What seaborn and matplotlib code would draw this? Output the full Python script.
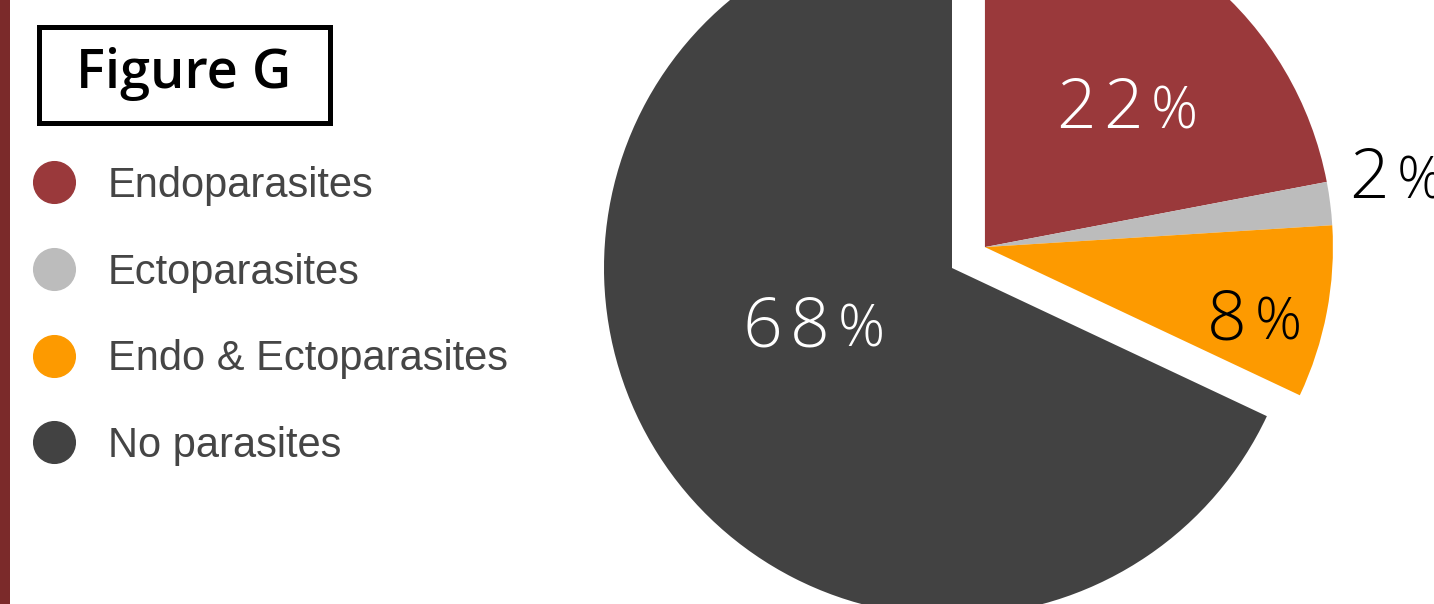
import numpy as np
import matplotlib
matplotlib.use("Agg")
import matplotlib.pyplot as plt
import seaborn as sns
from matplotlib.lines import Line2D
from matplotlib.patches import Rectangle
from matplotlib import font_manager
from matplotlib.font_manager import FontProperties

# ---- data ----
categories = ["Endoparasites", "Ectoparasites", "Endo & Ectoparasites", "No parasites"]
values = [22, 2, 8, 68]
pct_labels = ["22", "2", "8", "68"]
title_text = "Figure G"

# ---- style ----
colors = ["#9a393b", "#bcbcbc", "#fd9a00", "#424242"]
label_colors = ["white", "black", "black", "white"]
label_dist = [0.573, 1.20, 0.80, 0.43]
label_dang = [-5.8, 2.4, -4, -10]
exploded = [True, True, True, False]

sns.set_theme(style="white")
W, H = 1434, 604
fig = plt.figure(figsize=(W / 100, H / 100), dpi=100)
fig.patch.set_facecolor("white")
ax = fig.add_axes([0, 0, 1, 1])


def find_font(families, wmin, wmax, condensed):
    for fam in families:
        for f in font_manager.fontManager.ttflist:
            is_cond = ("Condensed" in f.name) or ("ondensed" in str(f.stretch)) \
                or ("Condensed" in f.fname)
            if f.name == fam and isinstance(f.weight, int) and wmin <= f.weight <= wmax \
                    and f.style == "normal" and is_cond == condensed:
                return f.fname
    return None


light = find_font(["Open Sans", "Lato", "Roboto", "Noto Sans", "Inter"], 250, 350, False)


def lfp(size):
    if light:
        return FontProperties(fname=light, size=size)
    return FontProperties(family="Lato", size=size)


cx, cy = 952, H - 268
R = 348
wedges, _ = ax.pie(values, colors=colors, startangle=90, counterclock=False,
                   center=(cx, cy), radius=R, wedgeprops=dict(linewidth=0))
ax.set_xlim(0, W)
ax.set_ylim(0, H)
ax.set_aspect("equal")
ax.axis("off")

# group explosion along mean angle of exploded slices
total = sum(values)
angles = []
a = 90.0
for v in values:
    span = 360.0 * v / total
    angles.append((a, a - span))
    a -= span
g_mid = np.deg2rad((angles[0][0] + angles[2][1]) / 2)
off = 39
ecx, ecy = cx + off * np.cos(g_mid), cy + off * np.sin(g_mid)
for w, e in zip(wedges, exploded):
    if e:
        w.set_center((ecx, ecy))

fig.canvas.draw()
renderer = fig.canvas.get_renderer()
big, small = 50, 42
track = 8
for i, (lab, col) in enumerate(zip(pct_labels, label_colors)):
    mid = np.deg2rad((angles[i][0] + angles[i][1]) / 2 + label_dang[i])
    ccx, ccy = (ecx, ecy) if exploded[i] else (cx, cy)
    x = ccx + label_dist[i] * R * np.cos(mid)
    y = ccy + label_dist[i] * R * np.sin(mid)
    base = y - 21
    cur = 0.0
    objs = []
    for ch in lab:
        t = ax.text(x + cur, base, ch, color=col, fontproperties=lfp(big),
                    ha="left", va="baseline")
        objs.append((t, cur))
        cur += t.get_window_extent(renderer).width + track
    tp = ax.text(x + cur, base, "%", color=col, fontproperties=lfp(small),
                 ha="left", va="baseline")
    objs.append((tp, cur))
    cur += tp.get_window_extent(renderer).width
    for t, px in objs:
        t.set_x(x + px - cur / 2)

# title box
ax.add_patch(Rectangle((39, H - 123), 291, 96, facecolor="white",
                       edgecolor="black", linewidth=3.6, zorder=5))
ax.text(184, H - 74, title_text, fontsize=39, family="Open Sans", color="black",
        fontweight="semibold", ha="center", va="center", zorder=6)

# legend
handles = [Line2D([0], [0], marker="o", linestyle="none", markersize=30,
                  markerfacecolor=c, markeredgecolor=c) for c in colors]
leg = fig.legend(handles, categories, loc="upper left", bbox_to_anchor=(33 / W, 1 - 166 / H),
                 frameon=False, prop={"family": "Liberation Sans", "size": 30},
                 labelcolor="#454545", handlelength=1.0, handletextpad=0.8,
                 labelspacing=1.12, borderaxespad=0, borderpad=0)

# left decorative bar
fig.patches.append(Rectangle((0, 0), 10 / W, 1, transform=fig.transFigure,
                             facecolor="#7b2a2a", edgecolor="none"))

fig.savefig("out.png", dpi=100, facecolor="white")
